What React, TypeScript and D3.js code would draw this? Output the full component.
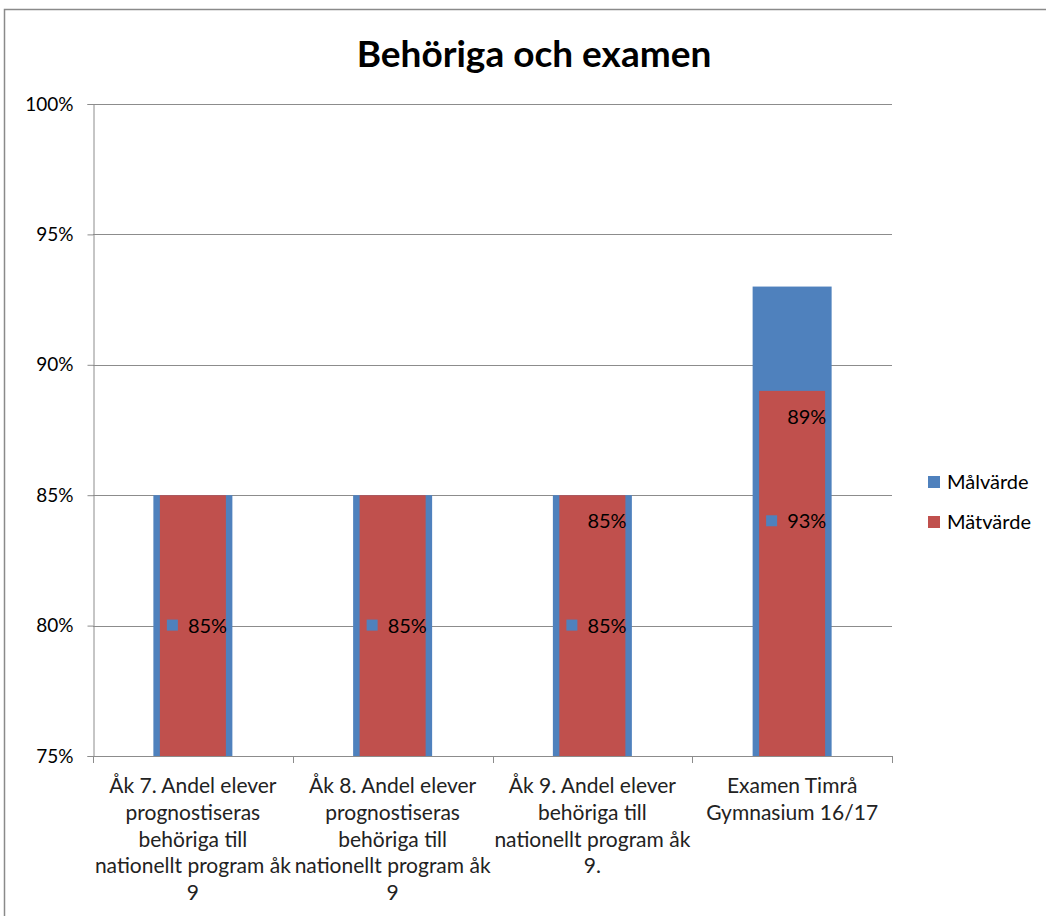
import React, { useEffect, useRef } from 'react';
import * as d3 from 'd3';

const categories = [
  ['Åk 7. Andel elever', 'prognostiseras', 'behöriga till', 'nationellt program åk', '9'],
  ['Åk 8. Andel elever', 'prognostiseras', 'behöriga till', 'nationellt program åk', '9'],
  ['Åk 9. Andel elever', 'behöriga till', 'nationellt program åk', '9.'],
  ['Examen Timrå', 'Gymnasium 16/17'],
];
const malvarde = [85, 85, 85, 93];
const matvarde = [85, 85, 85, 89];
const matLabelShown = [false, false, true, true];
const yTicks = [75, 80, 85, 90, 95, 100];
const seriesNames = ['Målvärde', 'Mätvärde'];

const BLUE = '#4F81BD';
const RED = '#C0504D';
const GRID = '#8c8c8c';
const FONT = 'Lato, "Open Sans", sans-serif';

const App = () => {
  const svgRef = useRef<SVGSVGElement>(null);

  useEffect(() => {
    const width = 1046;
    const height = 916;
    const left = 93;
    const right = 892;
    const top = 104;
    const bottom = 756;

    const svg = d3.select(svgRef.current).attr('width', width).attr('height', height);
    svg.selectAll('*').remove();

    svg
      .append('rect')
      .attr('x', 4.5)
      .attr('y', 9.5)
      .attr('width', 1050)
      .attr('height', 920)
      .attr('fill', 'white')
      .attr('stroke', '#8a8a8a')
      .attr('stroke-width', 1.5);

    svg
      .append('text')
      .attr('x', 534)
      .attr('y', 67)
      .attr('text-anchor', 'middle')
      .style('font-family', FONT)
      .style('font-weight', 'bold')
      .style('font-size', '37px')
      .attr('fill', '#000')
      .text('Behöriga och examen');

    const x = d3
      .scaleBand<number>()
      .domain(categories.map((c, i) => i))
      .range([left, right]);
    const y = d3.scaleLinear().domain([75, 100]).range([bottom, top]);

    // gridlines
    svg
      .selectAll('.grid')
      .data(yTicks)
      .join('line')
      .attr('x1', left)
      .attr('x2', right)
      .attr('y1', (d) => Math.round(y(d)) + 0.5)
      .attr('y2', (d) => Math.round(y(d)) + 0.5)
      .attr('stroke', GRID)
      .attr('stroke-width', 1);

    // y axis
    const yAxis = d3
      .axisLeft(y)
      .tickValues(yTicks)
      .tickSize(6)
      .tickPadding(14)
      .tickFormat((d) => `${d}%`);
    const gy = svg.append('g').attr('transform', `translate(${left + 0.5},0)`).call(yAxis);
    gy.select('.domain').attr('stroke', GRID);
    gy.selectAll('line').attr('stroke', GRID);
    gy.selectAll('text')
      .style('font-family', FONT)
      .style('font-size', '19px')
      .attr('fill', '#000');

    const cx = (i: number) => (x(i) as number) + x.bandwidth() / 2;

    // bars
    svg
      .selectAll('.blue')
      .data(malvarde)
      .join('rect')
      .attr('x', (d, i) => cx(i) - 39.5)
      .attr('width', 79)
      .attr('y', (d) => y(d))
      .attr('height', (d) => bottom - y(d))
      .attr('fill', BLUE);
    svg
      .selectAll('.red')
      .data(matvarde)
      .join('rect')
      .attr('x', (d, i) => cx(i) - 33)
      .attr('width', 66)
      .attr('y', (d) => y(d))
      .attr('height', (d) => bottom - y(d))
      .attr('fill', RED);

    // x axis
    svg
      .append('line')
      .attr('x1', left)
      .attr('x2', right)
      .attr('y1', bottom + 0.5)
      .attr('y2', bottom + 0.5)
      .attr('stroke', GRID);
    const edges = d3.range(categories.length + 1).map((i) => left + i * x.bandwidth());
    svg
      .selectAll('.xtick')
      .data(edges)
      .join('line')
      .attr('x1', (d) => Math.round(d) + 0.5)
      .attr('x2', (d) => Math.round(d) + 0.5)
      .attr('y1', bottom)
      .attr('y2', bottom + 7)
      .attr('stroke', GRID);

    categories.forEach((lines, i) => {
      const t = svg
        .append('text')
        .attr('text-anchor', 'middle')
        .style('font-family', FONT)
        .style('font-size', '21px')
        .attr('fill', '#222');
      lines.forEach((ln, j) => {
        t.append('tspan')
          .attr('x', cx(i))
          .attr('y', 793 + j * 26.8)
          .text(ln);
      });
    });

    // data labels: Målvärde in middle of bar with legend key
    malvarde.forEach((v, i) => {
      const my = y((75 + v) / 2);
      svg
        .append('rect')
        .attr('x', cx(i) - 26)
        .attr('y', my - 6)
        .attr('width', 11)
        .attr('height', 11)
        .attr('fill', BLUE);
      svg
        .append('text')
        .attr('x', cx(i) - 5)
        .attr('y', my)
        .attr('dy', '0.35em')
        .style('font-family', FONT)
        .style('font-size', '20px')
        .attr('fill', '#000')
        .text(`${v}%`);
    });

    // Mätvärde labels, inside end
    matvarde.forEach((v, i) => {
      if (!matLabelShown[i]) return;
      svg
        .append('text')
        .attr('x', cx(i) - 5)
        .attr('y', y(v) + 26)
        .attr('dy', '0.35em')
        .style('font-family', FONT)
        .style('font-size', '20px')
        .attr('fill', '#000')
        .text(`${v}%`);
    });

    // legend
    const legend = svg.append('g');
    [BLUE, RED].forEach((c, i) => {
      legend
        .append('rect')
        .attr('x', 928)
        .attr('y', 476 + i * 40)
        .attr('width', 12)
        .attr('height', 12)
        .attr('fill', c);
      legend
        .append('text')
        .attr('x', 947)
        .attr('y', 482 + i * 40)
        .attr('dy', '0.35em')
        .style('font-family', FONT)
        .style('font-size', '20px')
        .attr('fill', '#000')
        .text(seriesNames[i]);
    });
  }, []);

  return (
    <div>
      <svg ref={svgRef} style={{ position: 'absolute', left: 0, top: 0 }}></svg>
    </div>
  );
};

export default App;
